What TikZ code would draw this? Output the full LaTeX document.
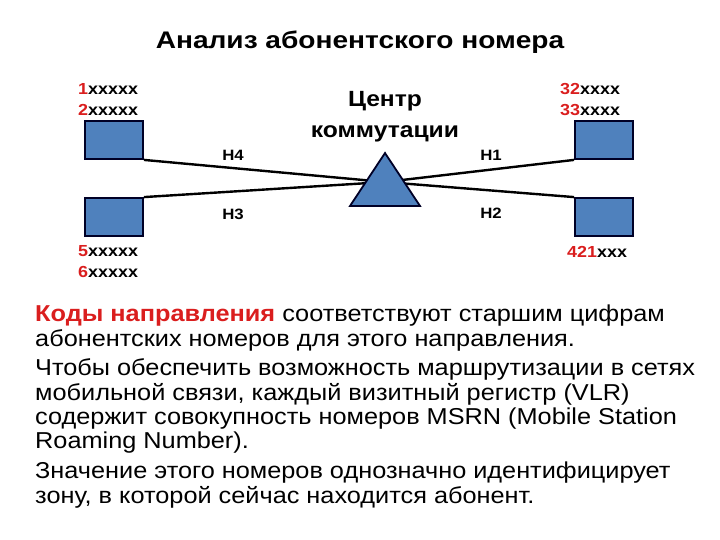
\documentclass[tikz,border=0pt]{standalone}
\usepackage{fontspec}
\setmainfont{Liberation Sans}
\newfontfamily\widefont[FakeStretch=1.12]{Liberation Sans}
\newfontfamily\titlefont[FakeStretch=1.17]{Liberation Sans}
\newfontfamily\bodyfont[FakeStretch=1.1]{Liberation Sans}
\definecolor{boxblue}{RGB}{79,129,189}
\definecolor{codered}{RGB}{218,30,30}
\tikzset{
  term/.style={draw=black!85!blue, line width=1.8pt, fill=boxblue, minimum width=58pt, minimum height=38pt, inner sep=0pt},
  link/.style={line width=2.4pt, black},
  num/.style={font=\widefont\bfseries\fontsize{16}{18}\selectfont, inner sep=0pt, anchor=west},
  lbl/.style={font=\widefont\bfseries\fontsize{15}{17}\selectfont, inner sep=0pt},
  bodyline/.style={font=\bodyfont\fontsize{23}{24.5}\selectfont, inner sep=0pt, anchor=base west},
}
\newcommand{\rd}[1]{\textcolor{codered}{#1}}
\begin{document}
\begin{tikzpicture}[x=1pt,y=-1pt]
\useasboundingbox (0,0) rectangle (720,540);
\node[font=\titlefont\bfseries\fontsize{24}{26}\selectfont, inner sep=0pt] (title) at (360,42) {Анализ абонентского номера};
% boxes
\node[term] (lt) at (114,140) {};
\node[term] (lb) at (114,217) {};
\node[term] (rt) at (604,140) {};
\node[term] (rb) at (604,217) {};
\coordinate (hub) at (385,182);
\draw[link] (lt.south east) -- (hub);
\draw[link] (lb.north east) -- (hub);
\draw[link] (rt.south west) -- (hub);
\draw[link] (rb.north west) -- (hub);
\draw[line width=1.8pt, draw=black!85!blue, fill=boxblue] (385,153) -- (420,206) -- (350,206) -- cycle;
% centre label
\node[font=\widefont\bfseries\fontsize{22}{31}\selectfont, align=center, inner sep=0pt] (ctr) at (385,117) {Центр\\коммутации};
% line labels
\node[lbl] (h4) at (233,155) {H4};
\node[lbl] (h3) at (233,214) {H3};
\node[lbl] (h1) at (491,155) {H1};
\node[lbl] (h2) at (491,213) {H2};
% numbers
\node[num] (n1) at (78,89) {\rd{1}xxxxx};
\node[num] (n2) at (78,110) {\rd{2}xxxxx};
\node[num] (n5) at (78,251) {\rd{5}xxxxx};
\node[num] (n6) at (78,272) {\rd{6}xxxxx};
\node[num] (n32) at (560,89) {\rd{32}xxxx};
\node[num] (n33) at (560,110) {\rd{33}xxxx};
\node[num] (n421) at (567,252) {\rd{421}xxx};
% body text
\node[bodyline] (b1) at (35,321) {\textcolor{codered}{\bfseries Коды направления} соответствуют старшим цифрам};
\node[bodyline] (b2) at (35,346) {абонентских номеров для этого направления.};
\node[bodyline] (b3) at (35,375) {Чтобы обеспечить возможность маршрутизации в сетях};
\node[bodyline] (b4) at (35,400) {мобильной связи, каждый визитный регистр (VLR)};
\node[bodyline] (b5) at (35,424) {содержит совокупность номеров MSRN (Mobile Station};
\node[bodyline] (b6) at (35,448) {Roaming Number).};
\node[bodyline] (b7) at (35,478) {Значение этого номеров однозначно идентифицирует};
\node[bodyline] (b8) at (35,503) {зону, в которой сейчас находится абонент.};
\end{tikzpicture}
\end{document}
